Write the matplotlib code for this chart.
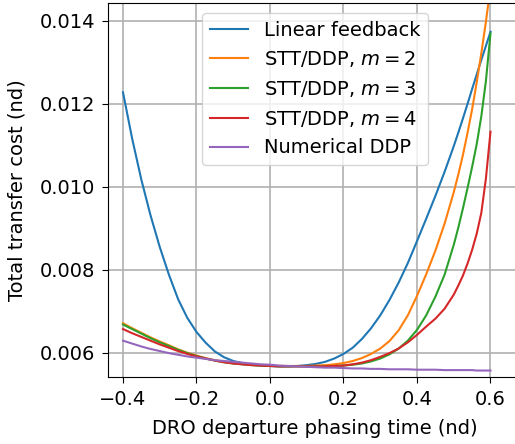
import matplotlib
matplotlib.use("Agg")
import matplotlib.pyplot as plt

plt.rcParams["font.family"] = ["DejaVu Sans"]
plt.rcParams["font.size"] = 14

# DRO departure phasing time (nd)
phasing = [-0.4, -0.375, -0.35, -0.325, -0.3, -0.275, -0.25, -0.225, -0.2, -0.175,
           -0.15, -0.125, -0.1, -0.075, -0.05, -0.025, 0.0, 0.025, 0.05, 0.075,
           0.1, 0.125, 0.15, 0.175, 0.2, 0.225, 0.25, 0.275, 0.3, 0.325,
           0.35, 0.375, 0.4, 0.425, 0.45, 0.475, 0.5, 0.5125, 0.525, 0.5375,
           0.55, 0.5625, 0.575, 0.5875, 0.6]

# Total transfer cost (nd) per method
linear_feedback = [0.01228, 0.01116, 0.01017, 0.00931, 0.00855, 0.00788, 0.00729, 0.00684, 0.00650, 0.00624,
                   0.00603, 0.00589, 0.00580, 0.00575, 0.00571, 0.00569, 0.00568, 0.00567, 0.00567, 0.00568,
                   0.00570, 0.00573, 0.00578, 0.00586, 0.00597, 0.00612, 0.00633, 0.00659, 0.00690, 0.00727,
                   0.00769, 0.00816, 0.00869, 0.00923, 0.00978, 0.01036, 0.01098, 0.01131, 0.01165, 0.01200,
                   0.01236, 0.01271, 0.01306, 0.01340, 0.01374]
stt_ddp_m2 = [0.00671, 0.00659, 0.00648, 0.00637, 0.00627, 0.00618, 0.00608, 0.00600, 0.00593, 0.00587,
              0.00582, 0.00578, 0.00575, 0.00573, 0.00571, 0.00570, 0.00569, 0.00568, 0.00568, 0.00568,
              0.00568, 0.00569, 0.00570, 0.00572, 0.00575, 0.00580, 0.00587, 0.00597, 0.00610, 0.00628,
              0.00654, 0.00690, 0.00737, 0.00789, 0.00846, 0.00911, 0.00987, 0.01030, 0.01077, 0.01130,
              0.01187, 0.01252, 0.01322, 0.01398, 0.01482]
stt_ddp_m3 = [0.00668, 0.00657, 0.00646, 0.00635, 0.00625, 0.00616, 0.00607, 0.00599, 0.00592, 0.00586,
              0.00581, 0.00577, 0.00574, 0.00572, 0.00570, 0.00569, 0.00568, 0.00567, 0.00567, 0.00567,
              0.00567, 0.00567, 0.00567, 0.00568, 0.00569, 0.00571, 0.00574, 0.00579, 0.00586, 0.00596,
              0.00610, 0.00629, 0.00655, 0.00690, 0.00735, 0.00788, 0.00860, 0.00902, 0.00948, 0.00997,
              0.01048, 0.01103, 0.01170, 0.01255, 0.01370]
stt_ddp_m4 = [0.00657, 0.00647, 0.00638, 0.00629, 0.00620, 0.00612, 0.00604, 0.00597, 0.00591, 0.00586,
              0.00581, 0.00577, 0.00574, 0.00572, 0.00570, 0.00569, 0.00568, 0.00567, 0.00567, 0.00567,
              0.00567, 0.00567, 0.00567, 0.00568, 0.00569, 0.00572, 0.00576, 0.00582, 0.00590, 0.00599,
              0.00610, 0.00625, 0.00643, 0.00663, 0.00682, 0.00706, 0.00740, 0.00762, 0.00786, 0.00815,
              0.00848, 0.00887, 0.00937, 0.01020, 0.01133]
numerical_ddp = [0.00629, 0.00622, 0.00615, 0.00609, 0.00604, 0.00599, 0.00595, 0.00591, 0.00588, 0.00585,
                 0.00582, 0.00580, 0.00578, 0.00576, 0.00574, 0.00572, 0.00571, 0.00569, 0.00568, 0.00567,
                 0.00566, 0.00565, 0.00564, 0.00564, 0.00563, 0.00562, 0.00562, 0.00561, 0.00561, 0.00560,
                 0.00560, 0.00560, 0.00559, 0.00559, 0.00559, 0.00558, 0.00558, 0.00558, 0.00558, 0.00558,
                 0.00558, 0.00557, 0.00557, 0.00557, 0.00557]

series = [
    ("Linear feedback", linear_feedback),
    ("STT/DDP, $m=2$", stt_ddp_m2),
    ("STT/DDP, $m=3$", stt_ddp_m3),
    ("STT/DDP, $m=4$", stt_ddp_m4),
    ("Numerical DDP", numerical_ddp),
]

# The plotting area runs past the right edge of the canvas; its x-limits
# are scaled to keep the data-to-pixel mapping fixed.
px_per_unit = 367.5
ax_left_px, ax_right_px = 108, 600
x_lo = -0.4408
x_hi = x_lo + (ax_right_px - ax_left_px) / px_per_unit

fig = plt.figure(figsize=(5.15, 4.44), dpi=100)
ax = fig.add_axes([ax_left_px / 515, 67 / 444, (ax_right_px - ax_left_px) / 515, 374 / 444])

for label, values in series:
    ax.plot(phasing, values, lw=1.5, label=label)

ax.set_xlim(x_lo, x_hi)
ax.set_ylim(0.005414, 0.014434)
ax.set_xticks([-0.4, -0.2, 0.0, 0.2, 0.4, 0.6])
ax.set_yticks([0.006, 0.008, 0.010, 0.012, 0.014])
ax.tick_params(length=4.5, pad=5)
ax.grid(True, color="#b0b0b0", lw=1.2)
ax.set_axisbelow(True)
ax.spines["right"].set_visible(False)

ax.set_xlabel("DRO departure phasing time (nd)", labelpad=7,
              x=(315 - ax_left_px) / (ax_right_px - ax_left_px))
ax.set_ylabel("Total transfer cost (nd)", labelpad=9)
ax.legend(loc="upper center", fontsize=14,
          bbox_to_anchor=((315 - ax_left_px) / (ax_right_px - ax_left_px), 1.0))

fig.savefig("out.png", dpi=100)
